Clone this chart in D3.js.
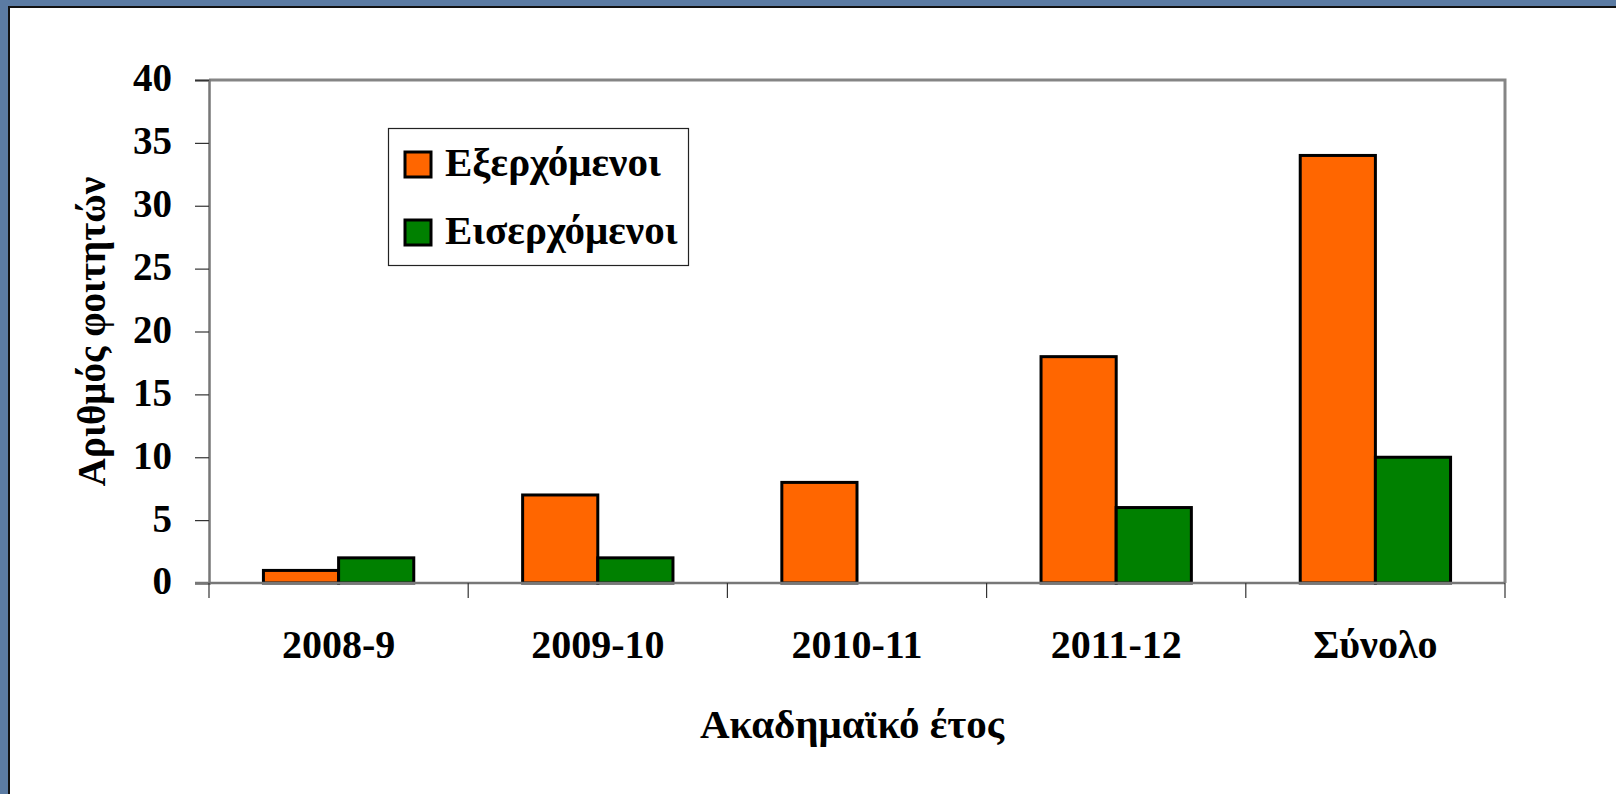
<!DOCTYPE html>
<html>
<head>
<meta charset="utf-8">
<script src="https://cdn.jsdelivr.net/npm/d3@7"></script>
<style>
  html, body { margin: 0; padding: 0; background: #5b7ba3; }
  svg { display: block; }
  text { font-family: "Liberation Serif", "Times New Roman", serif; font-weight: bold; fill: #000; }
</style>
</head>
<body>
<svg id="chart" width="1616" height="794"></svg>
<script>
// data
var categories = ['2008-9', '2009-10', '2010-11', '2011-12', 'Σύνολο'];
var seriesNames = ['Εξερχόμενοι', 'Εισερχόμενοι'];
var outgoing = [1, 7, 8, 18, 34];
var incoming = [2, 2, 0, 6, 10];
var yTicks = [0, 5, 10, 15, 20, 25, 30, 35, 40];
var colors = ['#ff6600', '#008000'];

(function() {
  var svg = d3.select('#chart');
  var plotLeft = 209, plotRight = 1505, plotTop = 80, plotBottom = 583;

  // slide background + white panel
  svg.append('rect')
    .attr('x', 0).attr('y', 0).attr('width', 1616).attr('height', 794)
    .attr('fill', '#5b7ba3');
  svg.append('rect')
    .attr('x', 9).attr('y', 7).attr('width', 1620).attr('height', 800)
    .attr('fill', '#fff')
    .attr('stroke', '#111').attr('stroke-width', 2);

  var x0 = d3.scaleBand().domain(categories).range([plotLeft, plotRight]).paddingInner(0).paddingOuter(0);
  var bw = x0.bandwidth();
  var gap = bw * 0.21;
  var x1 = d3.scaleBand().domain(seriesNames).range([gap, bw - gap]).padding(0);
  var y = d3.scaleLinear().domain([0, 40]).range([plotBottom, plotTop]);

  var rows = categories.map(function(c, i) {
    return { cat: c, values: [outgoing[i], incoming[i]] };
  });

  // plot frame (top + right)
  svg.append('path')
    .attr('d', 'M' + plotLeft + ',' + plotTop + 'H' + plotRight + 'V' + plotBottom)
    .attr('fill', 'none')
    .attr('stroke', '#858585')
    .attr('stroke-width', 3);

  // bars
  var groups = svg.selectAll('g.cat')
    .data(rows)
    .enter().append('g')
    .attr('class', 'cat')
    .attr('transform', function(d) { return 'translate(' + x0(d.cat) + ',0)'; });

  groups.selectAll('rect')
    .data(function(d) {
      return d.values.map(function(v, j) { return { name: seriesNames[j], value: v, j: j }; })
        .filter(function(e) { return e.value > 0; });
    })
    .enter().append('rect')
    .attr('x', function(d) { return x1(d.name); })
    .attr('y', function(d) { return y(d.value); })
    .attr('width', x1.bandwidth())
    .attr('height', function(d) { return y(0) - y(d.value); })
    .attr('fill', function(d) { return colors[d.j]; })
    .attr('stroke', '#000')
    .attr('stroke-width', 3);

  // y axis
  var yAxis = svg.append('g')
    .attr('transform', 'translate(' + plotLeft + ',0)')
    .call(d3.axisLeft(y).tickValues(yTicks).tickSize(14).tickPadding(23));
  yAxis.select('.domain').attr('stroke', '#777').attr('stroke-width', 2.5);
  yAxis.selectAll('.tick line').attr('stroke', '#333').attr('stroke-width', 1.2);
  yAxis.selectAll('.tick text')
    .attr('font-family', 'Liberation Serif, serif')
    .attr('font-weight', 'bold')
    .attr('font-size', 39)
    .attr('dy', '0.28em');

  // x axis
  var xAxis = svg.append('g')
    .attr('transform', 'translate(0,' + plotBottom + ')');
  xAxis.append('line')
    .attr('x1', plotLeft - 14).attr('x2', plotRight)
    .attr('stroke', '#777').attr('stroke-width', 2.5);
  xAxis.selectAll('line.xt')
    .data(categories.concat(['end']))
    .enter().append('line')
    .attr('class', 'xt')
    .attr('x1', function(d) { return d === 'end' ? plotRight : x0(d); })
    .attr('x2', function(d) { return d === 'end' ? plotRight : x0(d); })
    .attr('y1', 0).attr('y2', 15)
    .attr('stroke', '#333').attr('stroke-width', 1.2);
  xAxis.selectAll('text.xl')
    .data(categories)
    .enter().append('text')
    .attr('class', 'xl')
    .attr('x', function(d) { return x0(d) + bw / 2; })
    .attr('y', 75)
    .attr('text-anchor', 'middle')
    .attr('font-size', 40)
    .text(function(d) { return d; });

  // axis titles
  svg.append('text')
    .attr('x', 852)
    .attr('y', 738)
    .attr('text-anchor', 'middle')
    .attr('font-size', 41)
    .text('Ακαδημαϊκό έτος');
  svg.append('text')
    .attr('transform', 'translate(105,' + ((plotTop + plotBottom) / 2) + ') rotate(-90)')
    .attr('text-anchor', 'middle')
    .attr('font-size', 39)
    .text('Αριθμός φοιτητών');

  // legend
  var legend = svg.append('g');
  legend.append('rect')
    .attr('x', 388.5).attr('y', 128.5).attr('width', 300).attr('height', 137)
    .attr('fill', '#fff').attr('stroke', '#222').attr('stroke-width', 1.2);
  var items = legend.selectAll('g.item')
    .data(seriesNames)
    .enter().append('g')
    .attr('class', 'item')
    .attr('transform', function(d, i) { return 'translate(405,' + (152 + i * 68) + ')'; });
  items.append('rect')
    .attr('width', 26).attr('height', 25)
    .attr('fill', function(d, i) { return colors[i]; })
    .attr('stroke', '#000').attr('stroke-width', 3);
  items.append('text')
    .attr('x', 40).attr('y', 24)
    .attr('font-size', 41)
    .text(function(d) { return d; });
})();
</script>
</body>
</html>
